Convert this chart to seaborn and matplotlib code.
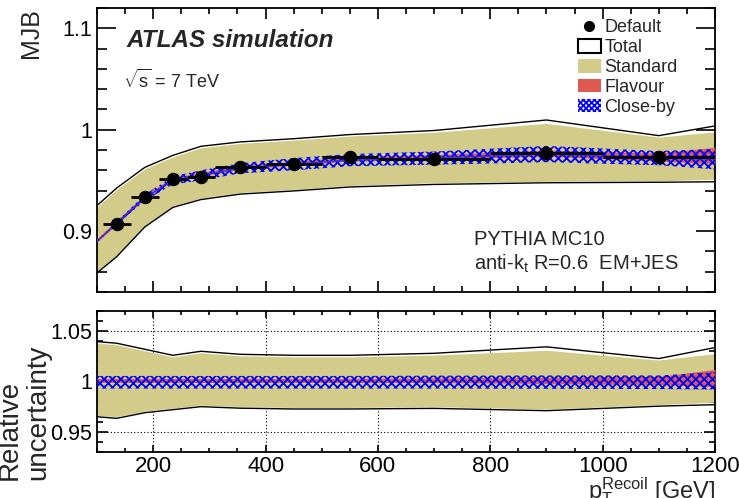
import numpy as np
import pandas as pd
import matplotlib
matplotlib.use('Agg')
import matplotlib.pyplot as plt
import seaborn as sns
from matplotlib.patches import Patch
from matplotlib.lines import Line2D
from matplotlib.ticker import MultipleLocator

# Data

# default MJB points (bin centres, bin edges, values)
pt_centres = [135, 185, 235, 285, 355, 450, 550, 700, 900, 1100]
pt_lo = [110, 160, 210, 260, 310, 400, 500, 600, 800, 1000]
pt_hi = [160, 210, 260, 310, 400, 500, 600, 800, 1000, 1200]
mjb = [0.907, 0.934, 0.951, 0.953, 0.963, 0.966, 0.973, 0.971, 0.977, 0.973]
mjb_err = [0.002, 0.002, 0.002, 0.002, 0.002, 0.002, 0.003, 0.003, 0.007, 0.004]

# band nodes
band_x = [100, 135, 185, 235, 285, 355, 450, 550, 700, 900, 1100, 1200]
band_centre = [0.890, 0.908, 0.933, 0.950, 0.955, 0.962, 0.966, 0.970, 0.972, 0.976, 0.972, 0.971]

# relative uncertainties
total_up = [1.0396, 1.038, 1.032, 1.026, 1.030, 1.027, 1.026, 1.026, 1.028, 1.0344, 1.0228, 1.0337]
total_dn = [0.965, 0.9634, 0.969, 0.972, 0.975, 0.9735, 0.9727, 0.9727, 0.9733, 0.971, 0.9755, 0.977]
std_up = [1.038, 1.0365, 1.0305, 1.0245, 1.0285, 1.0255, 1.0245, 1.0245, 1.0262, 1.031, 1.0213, 1.0277]
std_dn = [0.9665, 0.965, 0.9705, 0.9735, 0.9765, 0.975, 0.9742, 0.9742, 0.975, 0.9725, 0.977, 0.9795]
flav_up = [1.003, 1.003, 1.003, 1.003, 1.003, 1.003, 1.003, 1.003, 1.0035, 1.004, 1.005, 1.012]
flav_dn = [0.999, 0.999, 0.999, 0.999, 0.999, 0.999, 0.999, 0.999, 0.999, 0.998, 0.997, 0.995]
cb_up = [1.0055, 1.0055, 1.0055, 1.0055, 1.0055, 1.0055, 1.0055, 1.0055, 1.0058, 1.006, 1.006, 1.009]
cb_dn = [0.993, 0.993, 0.993, 0.993, 0.993, 0.993, 0.993, 0.993, 0.993, 0.9928, 0.9925, 0.992]

# close-by half width on the MJB panel (narrow at low pT)
cb_top_hw = [0.001, 0.0015, 0.003, 0.004, 0.005, 0.005, 0.006, 0.006, 0.0065, 0.008, 0.007, 0.010]

khaki = '#d2cb89'
red = '#dd5a52'

sns.set_theme(style='ticks')
plt.rcParams['font.family'] = ['Liberation Sans', 'DejaVu Sans']
plt.rcParams['mathtext.fontset'] = 'custom'
plt.rcParams['mathtext.rm'] = 'Liberation Sans'
plt.rcParams['mathtext.it'] = 'Liberation Sans:italic'
plt.rcParams['hatch.linewidth'] = 1.3
plt.rcParams['axes.linewidth'] = 1.3

fig = plt.figure(figsize=(7.39, 4.98), dpi=100)
ax1 = fig.add_axes([0.1313, 0.4137, 0.8362, 0.5702])
ax2 = fig.add_axes([0.1313, 0.0924, 0.8362, 0.2831])

bx = np.array(band_x)
c = np.array(band_centre)
df = pd.DataFrame({'x': bx, 'centre': c})


def draw_bands(ax, centre, cb_hi, cb_lo):
    ax.fill_between(bx, centre * np.array(std_dn), centre * np.array(std_up), color=khaki, lw=0, zorder=1)
    ax.plot(bx, centre * np.array(total_up), color='black', lw=1.0, zorder=2)
    ax.plot(bx, centre * np.array(total_dn), color='black', lw=1.0, zorder=2)
    ax.fill_between(bx, centre * np.array(flav_dn), centre * np.array(flav_up), color=red, lw=0, zorder=3)
    ax.fill_between(bx, cb_lo, cb_hi, facecolor='none', edgecolor='blue', hatch='xxxx', lw=0, zorder=4)


# MJB panel
draw_bands(ax1, c, c + np.array(cb_top_hw), c - np.array(cb_top_hw))
sns.lineplot(data=df, x='x', y='centre', ax=ax1, color='#3333dd', lw=1.0, zorder=5)
xc = np.array(pt_centres)
xerr = [xc - np.array(pt_lo), np.array(pt_hi) - xc]
ax1.errorbar(xc, mjb, xerr=xerr, yerr=mjb_err, fmt='none', ecolor='black', elinewidth=2, capsize=0, zorder=6)
sns.scatterplot(x=xc, y=mjb, ax=ax1, color='black', s=80, edgecolor='black', zorder=7)

ax1.set_xlim(100, 1200)
ax1.set_ylim(0.84, 1.12)
ax1.set_yticks([0.9, 1.0, 1.1])
ax1.set_yticklabels(['0.9', '1', '1.1'])
ax1.yaxis.set_minor_locator(MultipleLocator(0.02))
ax1.xaxis.set_major_locator(MultipleLocator(200))
ax1.xaxis.set_minor_locator(MultipleLocator(50))
ax1.tick_params(axis='x', which='both', labelbottom=False)
ax1.tick_params(axis='y', which='major', length=14, labelsize=15.5)
ax1.tick_params(axis='y', which='minor', length=7)
ax1.tick_params(axis='x', which='major', length=8)
ax1.tick_params(axis='x', which='minor', length=4)
ax1.set_xlabel('')
ax1.set_ylabel('')

# relative uncertainty panel
ones = np.ones_like(c)
draw_bands(ax2, ones, np.array(cb_up), np.array(cb_dn))
ax2.set_xlim(100, 1200)
ax2.set_ylim(0.93, 1.07)
ax2.set_yticks([0.95, 1.0, 1.05])
ax2.set_yticklabels(['0.95', '1', '1.05'])
ax2.yaxis.set_minor_locator(MultipleLocator(0.01))
ax2.xaxis.set_minor_locator(MultipleLocator(50))
ax2.set_xticks([200, 400, 600, 800, 1000, 1200])
ax2.grid(True, which='major', color='black', ls=(0, (1, 2)), lw=0.8)
ax2.set_axisbelow(True)
ax2.tick_params(axis='y', which='major', length=8, labelsize=15.5)
ax2.tick_params(axis='y', which='minor', length=4)
ax2.tick_params(axis='x', which='major', length=5, labelsize=16, pad=3)
ax2.tick_params(axis='x', which='minor', length=3)

for ax in (ax1, ax2):
    ax.tick_params(which='both', direction='in', top=True, right=True, width=1.2, colors='black')
    for s in ax.spines.values():
        s.set_color('black')
        s.set_linewidth(1.3)

# texts
fig.text(127 / 739, 1 - 47 / 498, 'ATLAS simulation', fontsize=17.5, fontweight='bold', style='italic')
fig.text(123 / 739, 1 - 88 / 498, r'$\sqrt{\mathrm{s}}$ = 7 TeV', fontsize=13)
fig.text(474 / 739, 1 - 245 / 498, 'PYTHIA MC10', fontsize=14.5)
fig.text(474 / 739, 1 - 270 / 498, r'anti-k$_{\mathrm{t}}$ R=0.6  EM+JES', fontsize=14.5)
fig.text(31 / 739, 1 - 8 / 498, 'MJB', rotation=90, ha='center', va='top', fontsize=18)
fig.text(10 / 739, 1 - 480 / 498, 'Relative', rotation=90, ha='center', va='bottom', fontsize=20)
fig.text(38 / 739, 1 - 480 / 498, 'uncertainty', rotation=90, ha='center', va='bottom', fontsize=20)
fig.text(715 / 739, 1 - 498 / 498, r'$\mathrm{p}_{\mathrm{T}}^{\mathrm{Recoil}}$ [GeV]', ha='right', va='baseline', fontsize=17)

# legend
handles = [
    Line2D([], [], marker='o', color='black', ls='none', markersize=7),
    Patch(facecolor='white', edgecolor='black', lw=1.5),
    Patch(facecolor=khaki, lw=0),
    Patch(facecolor=red, lw=0),
    Patch(facecolor='white', edgecolor='blue', hatch='xxxxxx', lw=0),
]
labels = ['Default', 'Total', 'Standard', 'Flavour', 'Close-by']
fig.legend(handles, labels, loc='upper left', bbox_to_anchor=(578 / 739, 1 - 19 / 498), frameon=False,
           fontsize=13, handlelength=1.25, handleheight=0.8, handletextpad=0.2, labelspacing=0.15,
           borderpad=0, borderaxespad=0)

fig.savefig('out.png', dpi=100)
